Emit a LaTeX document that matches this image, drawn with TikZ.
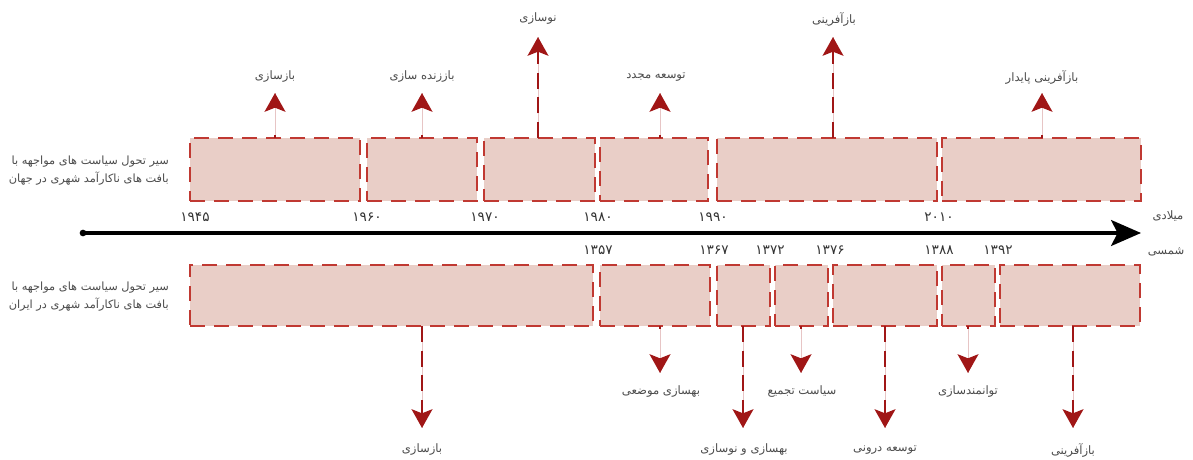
\documentclass[tikz,border=0pt]{standalone}
\usepackage{fontspec}
\TeXXeTstate=1
\newfontfamily\arabicfont[Script=Arabic]{DejaVu Sans}
\newfontfamily\numfont{DejaVu Sans}
\usetikzlibrary{arrows.meta,calc}
\definecolor{boxfill}{RGB}{233,206,199}
\definecolor{boxline}{RGB}{192,57,50}
\definecolor{arrred}{RGB}{160,22,22}
\definecolor{txtgray}{RGB}{75,75,75}
\begin{document}
\begin{tikzpicture}[x=0.75pt,y=-0.75pt,
  pbox/.style={draw=boxline,fill=boxfill,line width=1.5pt,dash pattern=on 11pt off 7pt,inner sep=0pt,outer sep=0pt,rectangle},
  tbox/.style={pbox,minimum height=47.25pt},
  bbox/.style={pbox,minimum height=45.75pt},
  lbl/.style={font=\arabicfont\fontsize{8.7}{10}\selectfont,text=txtgray,inner sep=0pt},
  side/.style={font=\arabicfont\fontsize{8.5}{13.5}\selectfont,text=txtgray,inner sep=0pt,align=right,anchor=east},
  yr/.style={font=\numfont\fontsize{10.2}{11}\selectfont,text=black!80,inner sep=0pt},
  arr/.style={draw=arrred,line width=2.2pt,dash pattern=on 12pt off 6.5pt,
    preaction={draw=arrred!25,line width=0.6pt,solid,-},
    -{Stealth[length=14pt,width=15.5pt,inset=3pt]}},
  sarr/.style={arr,dash pattern=on 2pt off 40pt},
  axis/.style={draw=black,line width=2.3pt,-{Stealth[length=22.5pt,width=19.5pt,inset=5pt]}}
]
\useasboundingbox (0,0) rectangle (1193,460);

% top boxes (world)
\node[tbox,minimum width=127.5pt] (t1) at (275,169.5) {};
\node[tbox,minimum width=82.5pt]  (t2) at (422,169.5) {};
\node[tbox,minimum width=83.25pt] (t3) at (539.5,169.5) {};
\node[tbox,minimum width=81pt]    (t4) at (654,169.5) {};
\node[tbox,minimum width=165pt]   (t5) at (827,169.5) {};
\node[tbox,minimum width=149.25pt] (t6) at (1041.5,169.5) {};

% bottom boxes (Iran)
\node[bbox,minimum width=302.25pt] (b1) at (391.5,295.5) {};
\node[bbox,minimum width=82.5pt]   (b2) at (655,295.5) {};
\node[bbox,minimum width=39.75pt]  (b3) at (743.5,295.5) {};
\node[bbox,minimum width=39.75pt]  (b4) at (801.5,295.5) {};
\node[bbox,minimum width=78pt]     (b5) at (885,295.5) {};
\node[bbox,minimum width=39.75pt]  (b6) at (968.5,295.5) {};
\node[bbox,minimum width=105pt]    (b7) at (1070,295.5) {};

% side texts
\node[side] (st) at (169,171) {\beginR سیر تحول سیاست های مواجهه با\endR\\\beginR بافت های ناکارآمد شهری در جهان\endR};
\node[side] (sb) at (169,297) {\beginR سیر تحول سیاست های مواجهه با\endR\\\beginR بافت های ناکارآمد شهری در ایران\endR};

% axis
\node[circle,fill=black,minimum size=5pt,inner sep=0pt] (ax0) at (83,233) {};
\coordinate (ax1) at (1141,233);
\draw[axis] (ax0.center) -- (ax1);
\node[lbl] (mil) at (1168,216) {\beginR میلادی\endR};
\node[lbl] (sha) at (1166,252) {\beginR شمسی\endR};

% years top
\node[yr] (y1) at (195,217) {۱۹۴۵};
\node[yr] (y2) at (367,217) {۱۹۶۰};
\node[yr] (y3) at (485,217) {۱۹۷۰};
\node[yr] (y4) at (598,217) {۱۹۸۰};
\node[yr] (y5) at (713,217) {۱۹۹۰};
\node[yr] (y6) at (939,217) {۲۰۱۰};
% years bottom
\node[yr] (z1) at (598,250) {۱۳۵۷};
\node[yr] (z2) at (714,250) {۱۳۶۷};
\node[yr] (z3) at (770,250) {۱۳۷۲};
\node[yr] (z4) at (830,250) {۱۳۷۶};
\node[yr] (z5) at (939,250) {۱۳۸۸};
\node[yr] (z6) at (998,250) {۱۳۹۲};

% top labels
\node[lbl] (l1) at (275,77) {\beginR بازسازی\endR};
\node[lbl] (l2) at (422,77) {\beginR باززنده سازی\endR};
\node[lbl] (l3) at (538,19) {\beginR نوسازی\endR};
\node[lbl] (l4) at (656,77) {\beginR توسعه مجدد\endR};
\node[lbl] (l5) at (834,19) {\beginR بازآفرینی\endR};
\node[lbl] (l6) at (1042,77) {\beginR بازآفرینی پایدار\endR};

\draw[sarr] (t1.north -| l1) -- ($(l1.center)+(0,16)$);
\draw[sarr] (t2.north -| l2) -- ($(l2.center)+(0,16)$);
\draw[arr]  (538,138) -- ($(l3.center)+(0,18)$);
\draw[sarr] (660,138) -- ($(l4.center)+(4,16)$);
\draw[arr]  (833,138) -- ($(l5.center)+(-1,18)$);
\draw[sarr] (t6.north -| l6) -- ($(l6.center)+(0,16)$);

% bottom labels
\node[lbl] (m1) at (422,450) {\beginR بازسازی\endR};
\node[lbl] (m2) at (661,392) {\beginR بهسازی موضعی\endR};
\node[lbl] (m3) at (744,450) {\beginR بهسازی و نوسازی\endR};
\node[lbl] (m4) at (802,392) {\beginR سیاست تجمیع\endR};
\node[lbl] (m5) at (885,450) {\beginR توسعه درونی\endR};
\node[lbl] (m6) at (968,392) {\beginR توانمندسازی\endR};
\node[lbl] (m7) at (1073,450) {\beginR بازآفرینی\endR};

\draw[arr]  (b1.south -| m1) -- ($(m1.center)+(0,-22)$);
\draw[sarr] (660,326) -- ($(m2.center)+(-1,-19)$);
\draw[arr]  (743,326) -- ($(m3.center)+(-1,-22)$);
\draw[sarr] (801,326) -- ($(m4.center)+(-1,-19)$);
\draw[arr]  (b5.south -| m5) -- ($(m5.center)+(0,-22)$);
\draw[sarr] (b6.south -| m6) -- ($(m6.center)+(0,-19)$);
\draw[arr]  (b7.south -| m7) -- ($(m7.center)+(0,-22)$);
\end{tikzpicture}
\end{document}
